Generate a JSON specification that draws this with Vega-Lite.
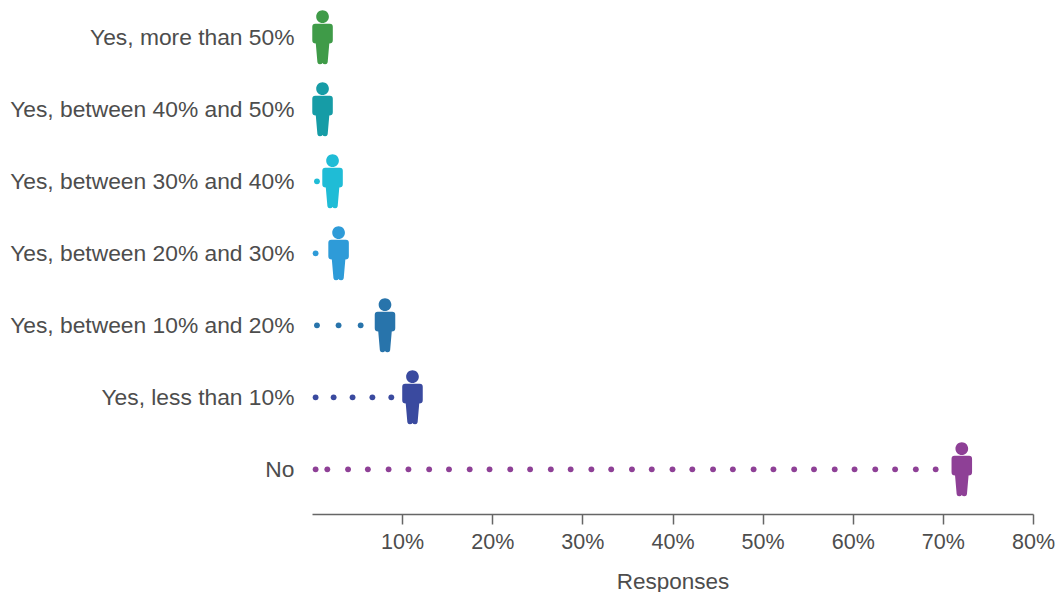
{
  "$schema": "https://vega.github.io/schema/vega-lite/v6.json",
  "width": 721,
  "height": 513,
  "autosize": "none",
  "padding": {"left": 312, "top": 1, "right": 24, "bottom": 78},
  "background": "white",
  "view": {"stroke": null},
  "datasets": {
    "people": [
      {"answer": "Yes, more than 50%", "share": 1.17},
      {"answer": "Yes, between 40% and 50%", "share": 1.17},
      {"answer": "Yes, between 30% and 40%", "share": 2.28},
      {"answer": "Yes, between 20% and 30%", "share": 2.95},
      {"answer": "Yes, between 10% and 20%", "share": 8.1},
      {"answer": "Yes, less than 10%", "share": 11.15},
      {"answer": "No", "share": 72.1}
    ],
    "trail": [
      {"answer": "Yes, between 30% and 40%", "share": 0.55},
      {"answer": "Yes, between 20% and 30%", "share": 0.4},
      {"answer": "Yes, between 10% and 20%", "share": 0.55},
      {"answer": "Yes, between 10% and 20%", "share": 2.95},
      {"answer": "Yes, between 10% and 20%", "share": 5.4},
      {"answer": "Yes, less than 10%", "share": 0.4},
      {"answer": "Yes, less than 10%", "share": 2.4},
      {"answer": "Yes, less than 10%", "share": 4.5},
      {"answer": "Yes, less than 10%", "share": 6.7},
      {"answer": "Yes, less than 10%", "share": 8.8},
      {"answer": "No", "share": 0.4},
      {"answer": "No", "share": 1.7},
      {"answer": "No", "share": 4.0},
      {"answer": "No", "share": 6.2},
      {"answer": "No", "share": 8.5},
      {"answer": "No", "share": 10.7},
      {"answer": "No", "share": 13.0},
      {"answer": "No", "share": 15.2},
      {"answer": "No", "share": 17.5},
      {"answer": "No", "share": 19.7},
      {"answer": "No", "share": 22.0},
      {"answer": "No", "share": 24.2},
      {"answer": "No", "share": 26.5},
      {"answer": "No", "share": 28.7},
      {"answer": "No", "share": 31.0},
      {"answer": "No", "share": 33.2},
      {"answer": "No", "share": 35.5},
      {"answer": "No", "share": 37.7},
      {"answer": "No", "share": 40.0},
      {"answer": "No", "share": 42.2},
      {"answer": "No", "share": 44.5},
      {"answer": "No", "share": 46.7},
      {"answer": "No", "share": 49.0},
      {"answer": "No", "share": 51.2},
      {"answer": "No", "share": 53.5},
      {"answer": "No", "share": 55.7},
      {"answer": "No", "share": 58.0},
      {"answer": "No", "share": 60.2},
      {"answer": "No", "share": 62.5},
      {"answer": "No", "share": 64.7},
      {"answer": "No", "share": 67.0},
      {"answer": "No", "share": 69.2}
    ]
  },
  "encoding": {
    "x": {
      "field": "share",
      "type": "quantitative",
      "scale": {"domain": [0, 80], "nice": false},
      "axis": {
        "title": "Responses",
        "values": [10, 20, 30, 40, 50, 60, 70, 80],
        "labelExpr": "datum.value + '%'",
        "labelFlush": false,
        "labelOverlap": false,
        "labelBound": false,
        "grid": false,
        "domainColor": "#666666",
        "tickColor": "#666666",
        "domainWidth": 1.5,
        "tickWidth": 1.5,
        "tickSize": 10,
        "labelFont": "Liberation Sans",
        "labelFontSize": 21.5,
        "labelColor": "#4d4d4d",
        "labelPadding": 7,
        "titleFont": "Liberation Sans",
        "titleFontSize": 22.5,
        "titleFontWeight": "normal",
        "titleColor": "#4d4d4d",
        "titlePadding": 18
      }
    },
    "y": {
      "field": "answer",
      "type": "nominal",
      "sort": ["Yes, more than 50%", "Yes, between 40% and 50%", "Yes, between 30% and 40%", "Yes, between 20% and 30%", "Yes, between 10% and 20%", "Yes, less than 10%", "No"],
      "scale": {"type": "point", "range": [36.3, 468.3], "padding": 0},
      "axis": {
        "title": null,
        "domain": false,
        "ticks": false,
        "grid": false,
        "labelFont": "Liberation Sans",
        "labelFontSize": 22.8,
        "labelColor": "#4d4d4d",
        "labelPadding": 18,
        "labelLimit": 320
      }
    },
    "color": {
      "field": "answer",
      "type": "nominal",
      "legend": null,
      "scale": {
        "domain": ["Yes, more than 50%", "Yes, between 40% and 50%", "Yes, between 30% and 40%", "Yes, between 20% and 30%", "Yes, between 10% and 20%", "Yes, less than 10%", "No"],
        "range": ["#3f9b48", "#169ca6", "#1fbcd6", "#2e9bd8", "#2874ab", "#3a4a9f", "#8e4096"]
      }
    }
  },
  "layer": [
    {
      "data": {"name": "trail"},
      "mark": {"type": "point", "shape": "circle", "filled": true, "opacity": 1, "size": 34}
    },
    {
      "data": {"name": "people"},
      "mark": {
        "type": "point",
        "filled": true,
        "opacity": 1,
        "size": 2916,
        "shape": "M0 -1A0.235 0.235 0 1 1 0 -0.53A0.235 0.235 0 1 1 0 -1ZM-0.27 -0.5H0.27Q0.38 -0.5 0.38 -0.39V0.11Q0.38 0.23 0.25 0.23L0.19 0.92Q0.18 1 0.1 1Q0.02 1 0 0.95Q-0.02 1 -0.1 1Q-0.18 1 -0.19 0.92L-0.25 0.23Q-0.38 0.23 -0.38 0.11V-0.39Q-0.38 -0.5 -0.27 -0.5Z"
      }
    }
  ]
}
